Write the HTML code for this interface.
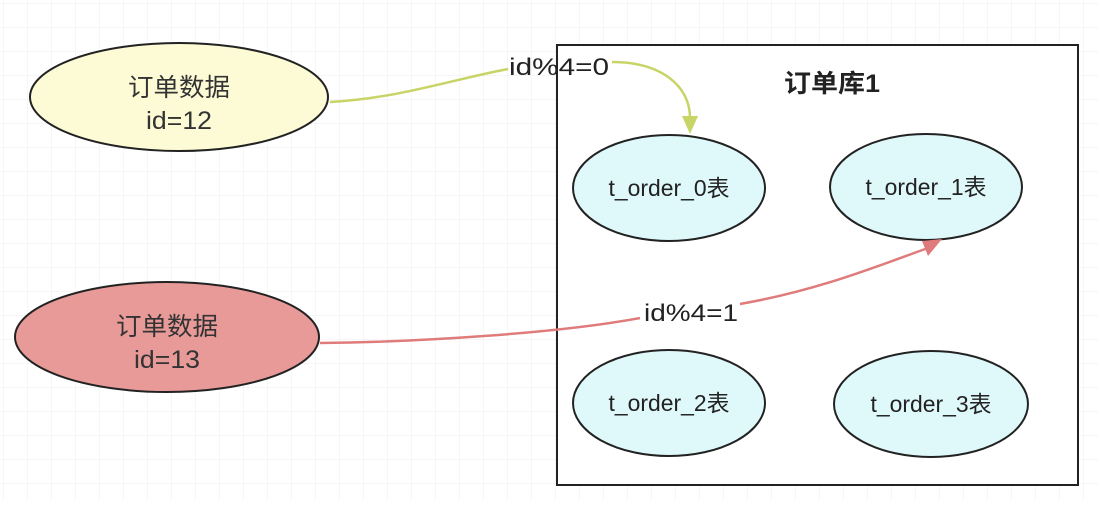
<!DOCTYPE html>
<html><head><meta charset="utf-8"><style>
html,body{margin:0;padding:0;background:#fff}
body{width:1098px;height:500px;overflow:hidden}
text{font-family:"Liberation Sans","Noto Sans CJK SC",sans-serif}
</style></head><body>
<svg width="1098" height="500" viewBox="0 0 1098 500" xmlns="http://www.w3.org/2000/svg">
<defs>
<pattern id="g" width="24" height="24" patternUnits="userSpaceOnUse" x="4" y="4">
<path d="M24 0V24M0 24H24" fill="none" stroke="#ececec" stroke-width="1"/>
</pattern>
</defs>
<rect width="1098" height="500" fill="url(#g)"/>
<rect x="557" y="45" width="521" height="440" fill="#fff" stroke="#222" stroke-width="2"/>
<text x="832" y="92" font-size="25" font-weight="bold" text-anchor="middle" fill="#222" textLength="96" lengthAdjust="spacingAndGlyphs">订单库1</text>

<ellipse cx="179" cy="97" rx="149" ry="54" fill="#fdfbd6" stroke="#222" stroke-width="2"/>
<text x="179" y="96" font-size="25" text-anchor="middle" fill="#333" textLength="102" lengthAdjust="spacingAndGlyphs">订单数据</text>
<text x="179" y="129" font-size="25" text-anchor="middle" fill="#333" textLength="66" lengthAdjust="spacingAndGlyphs">id=12</text>

<ellipse cx="167" cy="337" rx="152" ry="55" fill="#e79a97" stroke="#222" stroke-width="2"/>
<text x="167" y="335" font-size="25" text-anchor="middle" fill="#333" textLength="102" lengthAdjust="spacingAndGlyphs">订单数据</text>
<text x="167" y="368" font-size="25" text-anchor="middle" fill="#333" textLength="66" lengthAdjust="spacingAndGlyphs">id=13</text>

<g fill="#dff8fa" stroke="#222" stroke-width="2">
<ellipse cx="669" cy="188" rx="96" ry="53"/>
<ellipse cx="926" cy="187" rx="96" ry="53"/>
<ellipse cx="669" cy="403" rx="96" ry="53"/>
<ellipse cx="931" cy="404" rx="97" ry="53"/>
</g>
<g font-size="23" text-anchor="middle" fill="#222">
<text x="669" y="196" textLength="121" lengthAdjust="spacingAndGlyphs">t_order_0表</text>
<text x="926" y="195" textLength="121" lengthAdjust="spacingAndGlyphs">t_order_1表</text>
<text x="669" y="411" textLength="121" lengthAdjust="spacingAndGlyphs">t_order_2表</text>
<text x="931" y="412" textLength="121" lengthAdjust="spacingAndGlyphs">t_order_3表</text>
</g>

<path d="M330 102 C400 98 450 80 508 69" fill="none" stroke="#c8d465" stroke-width="2.5"/>
<path d="M612 62 C660 62 690 85 690 118" fill="none" stroke="#c8d465" stroke-width="2.5"/>
<polygon points="682,116 698,116 690,134" fill="#c8d465"/>
<text x="559" y="75" font-size="24" text-anchor="middle" fill="#222" textLength="100" lengthAdjust="spacingAndGlyphs">id%4=0</text>

<path d="M320 343 C420 342 560 333 640 318" fill="none" stroke="#e07b7b" stroke-width="2.5"/>
<path d="M740 304 C820 290 880 265 928 248" fill="none" stroke="#e07b7b" stroke-width="2.5"/>
<polygon points="922,241 942,239 928,256" fill="#e07b7b"/>
<text x="691" y="321" font-size="24" text-anchor="middle" fill="#222" textLength="94" lengthAdjust="spacingAndGlyphs">id%4=1</text>
</svg>
</body></html>
